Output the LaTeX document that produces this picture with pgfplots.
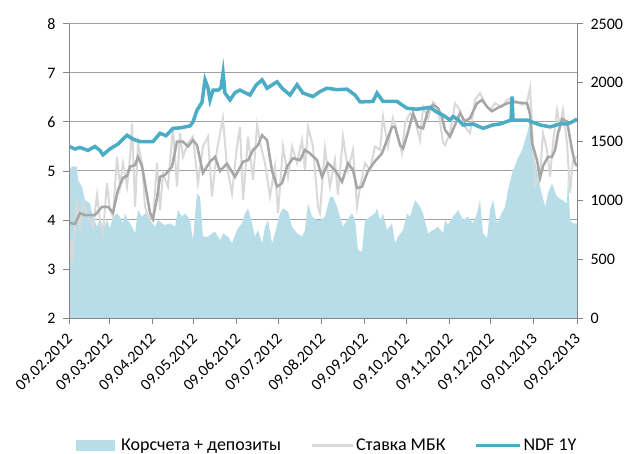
\documentclass[border=0pt]{standalone}
\usepackage{fontspec}
\setmainfont{Carlito}
\usepackage{pgfplots}
\pgfplotsset{compat=1.18}
\definecolor{areablue}{HTML}{B7DEE8}
\definecolor{mbkgray}{HTML}{D9D9D9}
\definecolor{magray}{HTML}{A6A6A6}
\definecolor{ndf}{HTML}{4BACC6}
\definecolor{gridc}{HTML}{A0A0A0}
\definecolor{axisc}{HTML}{868686}
\pgfplotsset{
  base/.style={at={(0,0)}, anchor=south west, scale only axis,
    width=508bp, height=294bp, xmin=0, xmax=366,
    /pgf/number format/assume math mode=true,
    /pgf/number format/1000 sep={},
    tick label style={font=\fontsize{16bp}{19bp}\selectfont, text=black},
    major tick length=6bp, tick align=outside,
    tick style={draw=axisc, line width=1bp},
    axis line style={-, draw=axisc, line width=1bp}},
}
\begin{document}
\begin{tikzpicture}
\useasboundingbox (-69bp,-136bp) rectangle (564bp,318bp);
% grid (left scale)
\begin{axis}[base, ymin=2, ymax=8, axis line style={draw=none},
  xtick=\empty, ytick={3,4,5,6,7,8}, yticklabels={}, major tick length=0pt,
  ymajorgrids, grid style={draw=gridc, line width=1bp}]
\addplot[draw=none] coordinates {(0,2)};
\end{axis}
% area (right scale)
\begin{axis}[base, ymin=0, ymax=2500, axis x line=none, axis y line*=right,
  axis on top, ytick={0,500,1000,1500,2000,2500},
  yticklabel style={xshift=4bp}]
\addplot[fill=areablue, draw=none] coordinates {
(0,1258)(2.2,1287)(5.8,1287)(6.5,1173)(9.4,1116)(11.5,1003)(15.1,975)(17.3,861)(20.2,776)(22.3,861)(24.5,748)(27.4,833)(29.5,763)(31.7,861)(34.6,890)(36.7,861)(38.9,805)(40.3,890)(42.5,833)(45.4,776)(47.6,720)(49.7,918)(52.6,861)(56.2,904)(58.4,833)(62.0,776)(64.1,833)(67.0,805)(69.2,791)(72.8,805)(76.4,776)(78.5,918)(81.4,861)(83.6,890)(87.2,833)(89.3,663)(92.2,1060)(94.4,1031)(96.5,691)(100.1,691)(103.0,720)(105.2,734)(108.8,663)(111.0,720)(114.6,691)(117.4,635)(121.0,748)(124.6,805)(126.8,890)(129.0,933)(131.9,805)(134.0,691)(136.2,748)(139.1,635)(141.2,776)(143.4,833)(146.3,635)(148.4,720)(152.0,890)(154.2,933)(157.8,904)(160.7,776)(164.3,720)(167.9,691)(170.0,748)(172.2,975)(175.1,861)(178.7,833)(180.8,833)(184.4,861)(188.0,1031)(190.2,1031)(193.1,946)(195.3,861)(197.4,776)(200.3,833)(203.9,890)(206.1,833)(208.2,578)(211.1,564)(213.3,833)(216.9,861)(220.5,890)(221.9,933)(224.1,833)(226.2,890)(229.1,748)(232.7,805)(234.9,635)(237.0,691)(240.7,748)(243.5,890)(245.7,861)(249.3,1003)(252.9,946)(255.1,890)(258.7,720)(262.3,748)(265.9,776)(269.5,720)(270.9,833)(273.1,791)(276.7,861)(280.3,918)(283.9,833)(287.5,861)(291.1,805)(294.0,890)(296.1,1003)(298.3,720)(301.2,678)(303.3,918)(305.5,1003)(308.4,805)(310.5,861)(314.1,946)(316.3,1088)(319.2,1230)(322.8,1343)(326.4,1428)(330.0,1570)(331.5,1641)(332.2,1939)(332.9,1700)(333.6,1684)(335.8,1343)(339.4,1116)(343.0,946)(345.1,1060)(348.0,1145)(351.6,1031)(355.2,1003)(358.8,975)(359.5,1230)(361.0,833)(363.1,805)(366,805)
} \closedcycle;
\end{axis}
% lines (left scale)
\begin{axis}[base, ymin=2, ymax=8, axis x line*=bottom, axis y line*=left,
  axis on top, ytick={2,3,4,5,6,7,8},
  yticklabel style={xshift=-4bp},
  xtick={0,29,60,90,121,151,182,213,243,274,304,335,366},
  xticklabels={09.02.2012,09.03.2012,09.04.2012,09.05.2012,09.06.2012,09.07.2012,09.08.2012,09.09.2012,09.10.2012,09.11.2012,09.12.2012,09.01.2013,09.02.2013},
  xticklabel style={rotate=45, anchor=east, inner sep=1bp, xshift=2bp},
  xticklabel shift=13bp,
  legend style={at={(0.508,-0.432)}, anchor=center, draw=none, fill=none,
    legend columns=3, font=\fontsize{18bp}{21bp}\selectfont,
    /tikz/every even column/.append style={column sep=27bp}},
  legend cell align=left]
\addlegendimage{legend image code/.code={\fill[areablue] (0bp,-5bp) rectangle (38bp,5bp); \path (43bp,0bp);}}
\addlegendentry{Корсчета + депозиты}
\addplot[mbkgray, line width=2bp, legend image code/.code={\draw[mbkgray, line width=3bp] (0bp,0bp) -- (41bp,0bp);}] coordinates {
(0.7,3.59)(2.2,3.14)(5.8,4.35)(7.9,3.86)(10.1,4.34)(13.7,4.07)(17.3,3.86)(20.2,4.51)(22.3,4.0)(24.5,3.73)(27.4,4.75)(29.5,4.20)(31.7,4.07)(34.6,5.29)(36.7,4.68)(38.9,5.16)(41.8,4.68)(44.0,5.29)(45.4,5.97)(47.6,4.27)(49.7,5.57)(52.6,5.16)(54.8,4.27)(56.9,4.07)(60.5,4.0)(63.4,5.16)(65.6,4.2)(67.7,4.95)(71.3,4.68)(74.9,5.90)(77.8,4.68)(80.0,5.77)(82.1,5.29)(85.7,5.57)(89.3,5.70)(92.9,4.75)(96.5,5.50)(100.1,5.70)(103.0,4.48)(106.6,5.43)(110.9,6.08)(113.8,5.09)(117.4,4.54)(121.0,5.50)(123.2,5.90)(125.4,4.41)(129.0,5.70)(132.6,4.82)(135.5,5.94)(137.7,5.57)(141.2,5.16)(144.8,4.48)(148.4,5.09)(150.6,4.14)(154.2,5.50)(157.8,4.88)(160.7,5.50)(164.3,5.16)(167.9,5.63)(170.0,5.02)(172.2,5.90)(175.8,5.50)(179.4,4.27)(180.8,4.14)(184.4,5.46)(188.0,4.68)(191.6,5.22)(193.8,4.51)(197.4,5.70)(201.0,5.02)(204.6,5.43)(207.5,4.27)(209.7,4.68)(213.3,5.16)(216.9,5.02)(220.5,5.50)(224.1,5.43)(226.2,6.11)(229.8,5.50)(233.4,6.08)(237.0,5.70)(239.9,5.36)(242.1,5.97)(245.7,6.18)(249.3,6.04)(252.9,5.63)(255.1,6.31)(258.7,6.08)(262.3,6.41)(265.9,6.28)(269.5,5.57)(270.9,5.53)(274.5,5.77)(278.1,6.38)(281.7,6.24)(285.3,5.90)(288.9,5.77)(292.5,6.45)(296.1,6.59)(299.7,6.38)(303.3,6.24)(306.9,6.38)(311.9,6.31)(315.6,6.45)(319.2,6.48)(322.8,6.41)(326.4,6.35)(330.0,6.41)(332.2,6.69)(333.6,5.90)(335.8,4.71)(339.4,4.95)(341.5,5.77)(344.4,5.43)(346.6,4.88)(348.7,5.57)(351.6,6.24)(353.8,5.90)(355.9,6.24)(358.8,5.57)(361.0,4.55)(363.1,5.22)(366,5.29)
};
\addlegendentry{Ставка МБК}
\addplot[magray, line width=2.5bp, forget plot] coordinates {
(0,3.95)(0.7,3.94)(4.3,3.92)(7.9,4.14)(11.5,4.10)(18.7,4.10)(23.8,4.27)(28.1,4.27)(31.7,4.15)(35.3,4.61)(38.9,4.86)(41.8,4.90)(44.0,5.09)(47.6,5.12)(49.7,5.29)(52.6,5.10)(56.2,4.51)(58.4,4.14)(60.5,4.02)(63.4,4.45)(65.6,4.88)(69.2,4.92)(74.2,5.09)(77.8,5.60)(82.1,5.60)(85.7,5.50)(89.3,5.63)(92.2,5.53)(96.5,4.96)(101.6,5.19)(105.2,5.29)(108.8,5.00)(113.8,5.15)(119.6,4.88)(125.4,5.19)(129.0,5.22)(132.6,5.43)(136.2,5.53)(139.1,5.73)(142.7,5.63)(146.3,5.00)(149.9,4.68)(153.5,4.75)(157.1,5.09)(161.4,5.26)(166.4,5.22)(170.0,5.43)(173.6,5.36)(178.7,5.22)(180.8,5.02)(182.3,4.88)(186.6,5.16)(191.6,5.02)(196.7,4.78)(201.0,5.16)(204.6,5.02)(207.5,4.65)(211.1,4.68)(215.4,5.00)(220.5,5.20)(225.5,5.36)(229.1,5.63)(232.7,5.90)(234.9,5.90)(238.5,5.53)(240.7,5.46)(244.3,5.80)(247.9,6.18)(251.5,5.90)(255.1,5.87)(258.7,6.24)(262.3,6.35)(265.9,6.28)(268.7,6.10)(270.9,5.84)(274.5,5.70)(278.1,5.94)(281.7,6.18)(285.3,6.01)(288.9,6.08)(293.9,6.38)(297.6,6.45)(301.2,6.31)(304.8,6.22)(308.4,6.28)(315.6,6.38)(319.9,6.41)(330.0,6.38)(332.2,6.15)(333.6,5.57)(337.2,5.22)(339.4,4.86)(341.5,5.10)(345.1,5.29)(348.0,5.29)(350.2,5.43)(352.3,5.77)(355.2,6.06)(358.8,6.01)(362.4,5.43)(364.6,5.16)(366,5.10)
};
\addplot[ndf, line width=3.5bp, legend image code/.code={\draw[ndf, line width=3bp] (0bp,0bp) -- (44bp,0bp);}] coordinates {
(0,5.50)(4.3,5.45)(7.9,5.48)(13.7,5.42)(18.7,5.50)(22.3,5.42)(24.5,5.33)(29.5,5.45)(35.3,5.55)(41.8,5.73)(46.1,5.65)(51.2,5.60)(60.5,5.60)(65.6,5.77)(69.9,5.72)(74.9,5.87)(80.0,5.88)(87.2,5.92)(89.3,6.00)(92.2,6.24)(95.8,6.40)(98.0,6.86)(100.1,6.70)(101.6,6.45)(103.8,6.65)(107.4,6.65)(109.5,6.70)(111.0,7.00)(112.4,6.59)(116.0,6.45)(119.6,6.60)(123.2,6.65)(130.4,6.55)(134.7,6.75)(139.1,6.86)(142.7,6.69)(149.9,6.82)(153.5,6.69)(159.2,6.55)(164.3,6.76)(168.6,6.59)(175.8,6.52)(180.8,6.62)(185.9,6.69)(193.1,6.66)(200.3,6.67)(206.1,6.55)(209.7,6.41)(219.0,6.42)(221.9,6.59)(226.2,6.42)(236.3,6.42)(243.5,6.28)(250.7,6.26)(260.1,6.30)(265.1,6.20)(269.5,6.14)(274.5,6.04)(276.7,6.11)(280.3,6.05)(283.9,5.94)(291.1,5.96)(298.3,5.87)(305.5,5.94)(310.5,5.96)(315.6,6.01)(318.5,6.04)(319.2,6.52)(319.9,6.04)(330.0,6.04)(339.4,5.94)(346.6,5.90)(353.8,5.96)(358.8,5.96)(362.4,6.00)(366,6.06)
};
\addlegendentry{NDF 1Y}
\end{axis}
\end{tikzpicture}
\end{document}
